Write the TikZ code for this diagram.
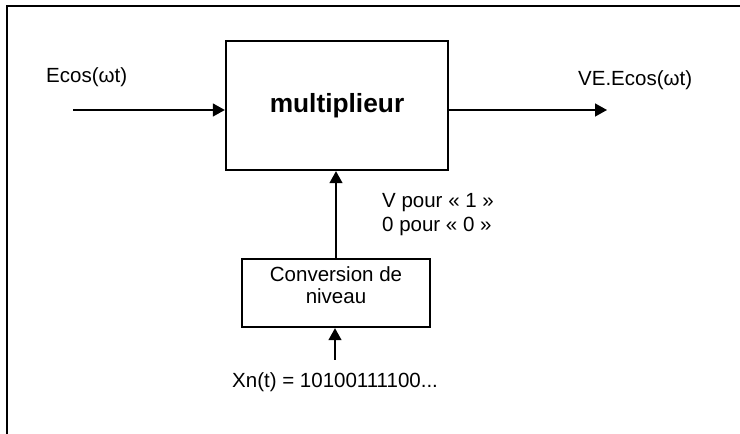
\documentclass[tikz,border=0pt]{standalone}
\usepackage{fontspec}
\setmainfont{Liberation Sans}
\usetikzlibrary{arrows.meta}
\begin{document}
\begin{tikzpicture}[x=1pt,y=1pt,
  lbl/.style={inner sep=0pt,font=\fontsize{20.5}{24}\selectfont},
  blk/.style={draw,line width=2.4pt,inner sep=0pt},
  sig/.style={line width=1.5pt,-{Triangle[length=12pt,width=13pt]}}]
\useasboundingbox (0,0) rectangle (740,434);
\draw[line width=2.4pt] (7,0) -- (7,428) -- (740,428);
% blocks
\node[blk,minimum width=222pt,minimum height=129pt,font=\fontsize{26.3}{30}\selectfont\bfseries] (mult) at (337,328.5) {multiplieur};
\node[blk,minimum width=188pt,minimum height=68pt] (conv) at (336,141) {};
\node[lbl,anchor=base,align=center] (convt) at (336,130.7) {Conversion de\\[-2pt]niveau};
% labels
\node[lbl,anchor=base west] (ein) at (46,351.3) {Ecos(ωt)};
\node[lbl,anchor=base west] (eout) at (578,348) {VE.Ecos(ωt)};
\node[lbl,anchor=base west,align=left] (vp) at (382,202.3) {V pour « 1 »\\[0pt]0 pour « 0 »};
\node[lbl,anchor=base west] (xn) at (232,46) {Xn(t) = 10100111100...};
% connectors
\coordinate (inA) at (73,324);
\coordinate (outB) at (607,324);
\coordinate (xin) at (335,74);
\draw[sig] (inA) -- (inA -| mult.west);
\draw[sig] (outB -| mult.east) -- (outB);
\draw[sig] (conv.north) -- (conv.north |- mult.south);
\draw[sig] (xin) -- (xin |- conv.south);
\end{tikzpicture}
\end{document}
